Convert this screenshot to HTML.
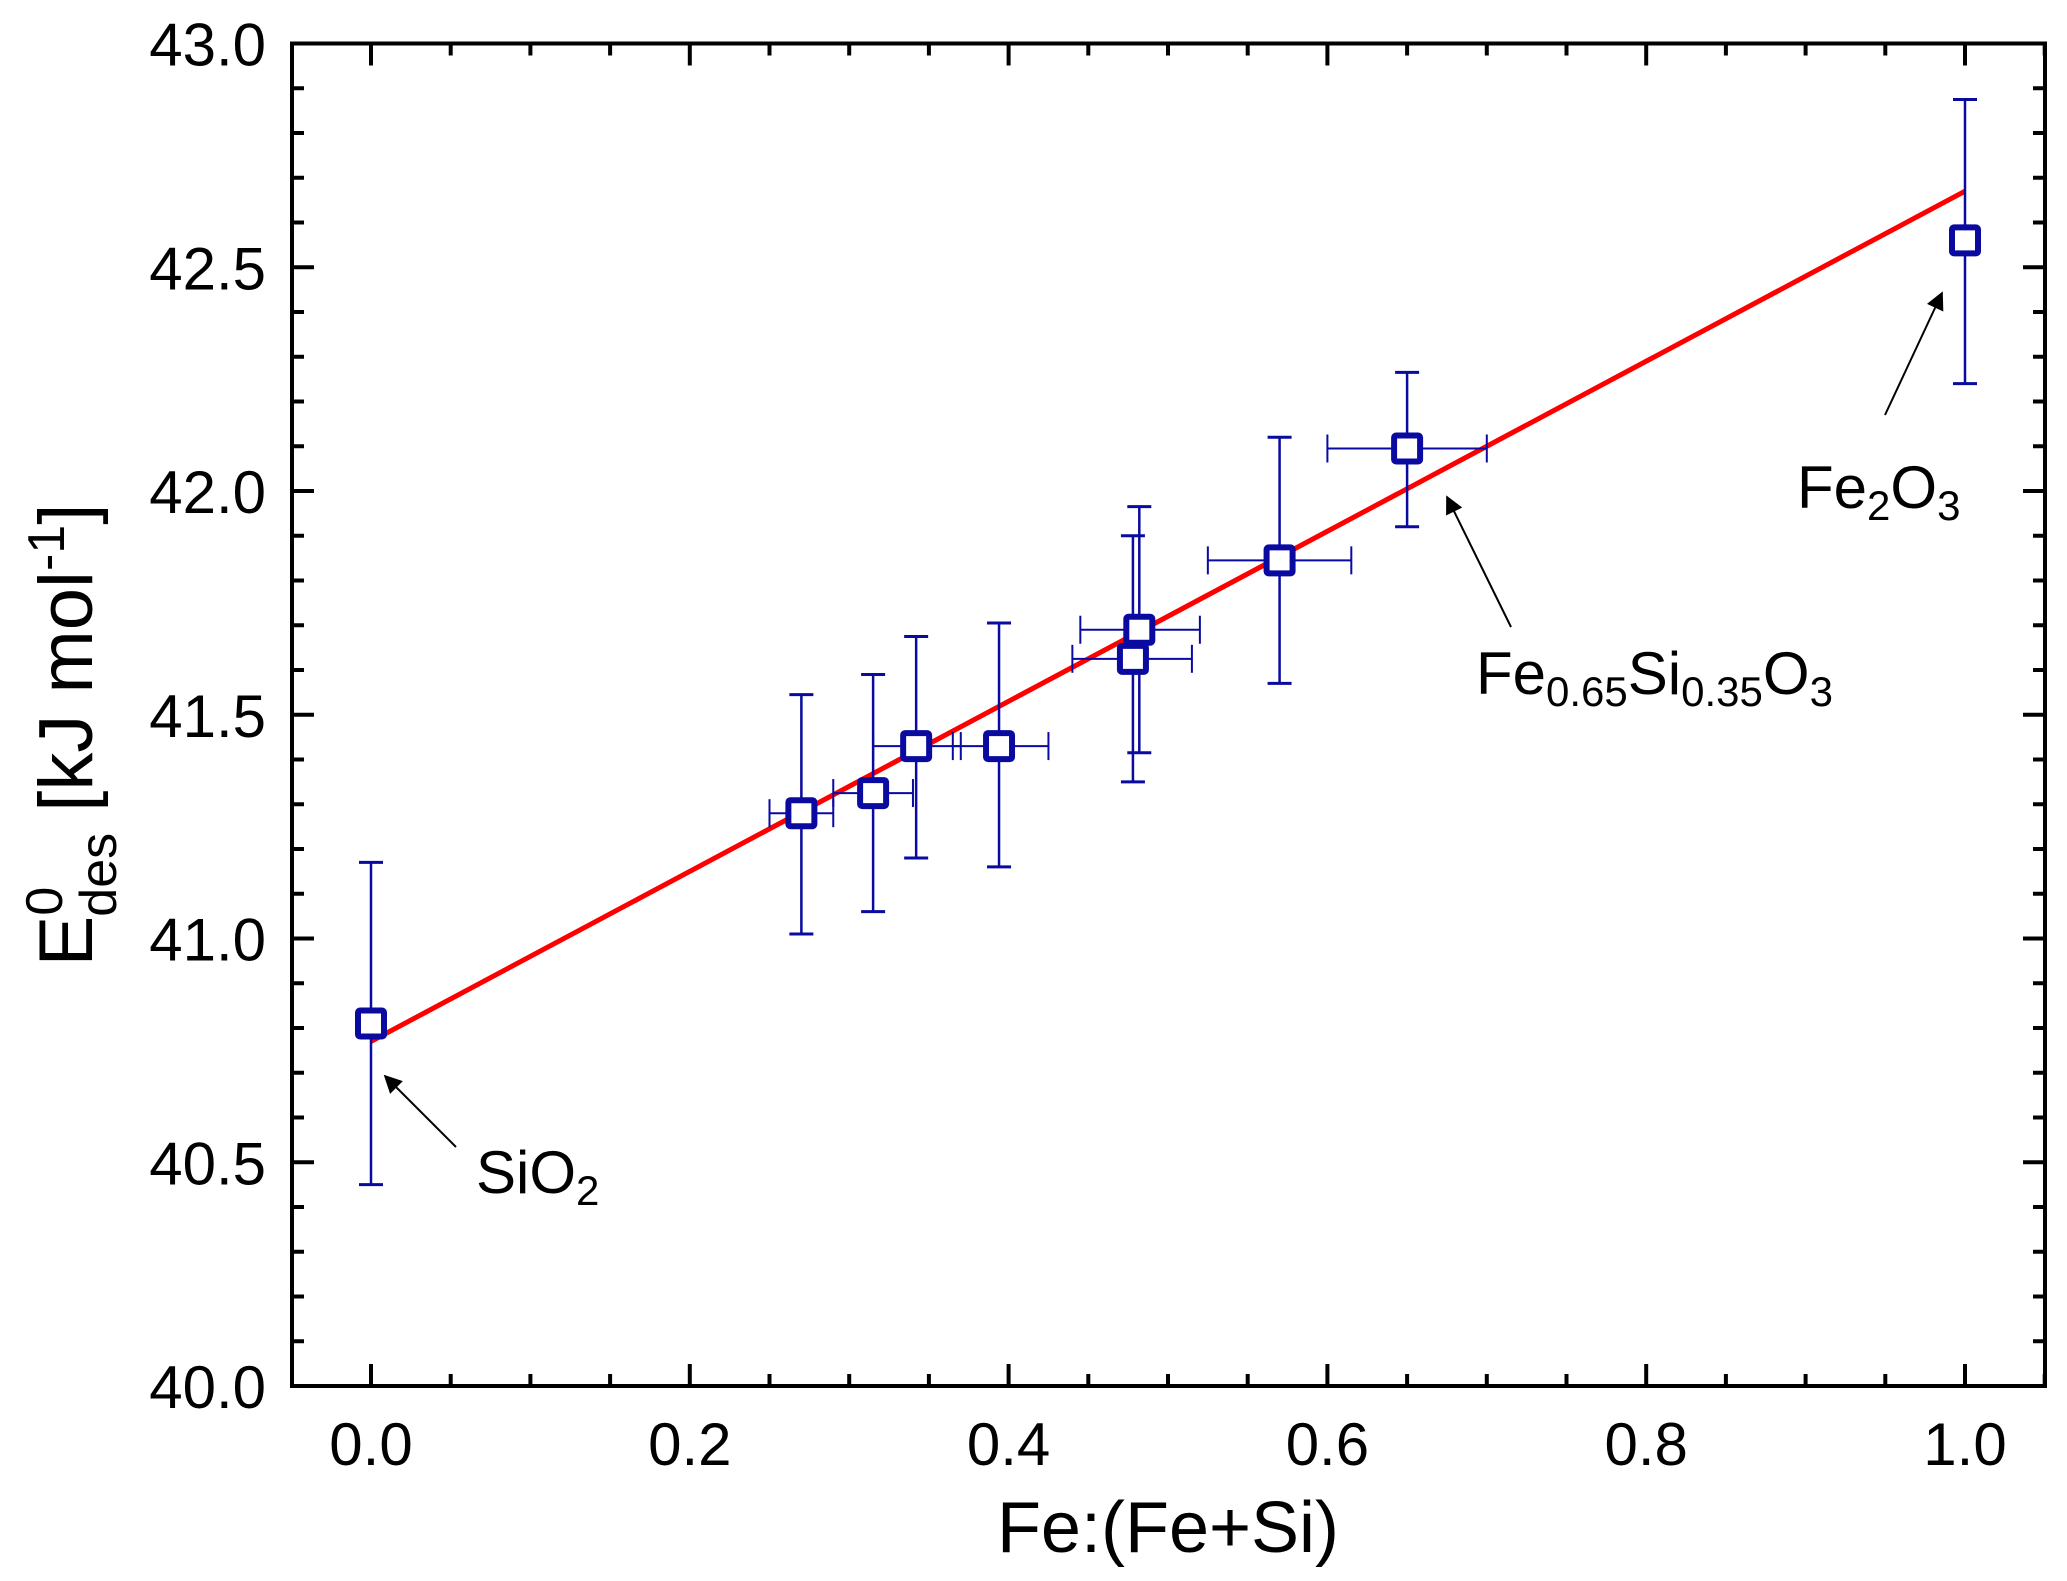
<!DOCTYPE html>
<html><head><meta charset="utf-8"><style>
html,body{margin:0;padding:0;background:#fff;}
svg{display:block;font-family:"Liberation Sans",Arial,sans-serif;}
</style></head><body>
<svg id="chart" width="2067" height="1581" viewBox="0 0 2067 1581" xmlns="http://www.w3.org/2000/svg">
<defs><marker id="ah" viewBox="0 0 10 10" refX="9" refY="5" markerWidth="22" markerHeight="18" markerUnits="userSpaceOnUse" orient="auto"><path d="M0,0 L10,5 L0,10 z" fill="#000"/></marker></defs>
<g id="plot"></g>
<g>
<line x1="456" y1="1147" x2="385" y2="1076" stroke="#000" stroke-width="2" marker-end="url(#ah)"/>
<text x="476" y="1193" font-size="60">SiO<tspan font-size="42" dy="12">2</tspan></text>
<line x1="1511" y1="627" x2="1447" y2="497" stroke="#000" stroke-width="2" marker-end="url(#ah)"/>
<text x="1476" y="694" font-size="60">Fe<tspan font-size="42" dy="12">0.65</tspan><tspan dy="-12">Si</tspan><tspan font-size="42" dy="12">0.35</tspan><tspan dy="-12">O</tspan><tspan font-size="42" dy="12">3</tspan></text>
<line x1="1885" y1="415" x2="1942" y2="293" stroke="#000" stroke-width="2" marker-end="url(#ah)"/>
<text x="1797" y="508" font-size="60">Fe<tspan font-size="42" dy="12">2</tspan><tspan dy="-12">O</tspan><tspan font-size="42" dy="12">3</tspan></text>
</g>
<text x="1168" y="1552" font-size="72" text-anchor="middle">Fe:(Fe+Si)</text>
<text transform="translate(92,735) rotate(-90)" font-size="76" text-anchor="middle">E<tspan font-size="52" dy="-30">0</tspan><tspan font-size="52" dy="54" dx="-30">des</tspan><tspan dy="-24"> [kJ mol</tspan><tspan font-size="52" dy="-28">-1</tspan><tspan dy="28">]</tspan></text>
</svg>
<script>
const xs=[0,0.27,0.315,0.342,0.394,0.478,0.482,0.57,0.65,1.0];
const ys=[40.81,41.28,41.325,41.43,41.43,41.625,41.69,41.845,42.095,42.56];
const yLo=[40.45,41.01,41.06,41.18,41.16,41.35,41.415,41.57,41.92,42.24];
const yHi=[41.17,41.545,41.59,41.675,41.705,41.90,41.965,42.12,42.265,42.875];
const xLo=[null,0.25,0.29,0.315,0.365,0.44,0.445,0.525,0.60,null];
const xHi=[null,0.29,0.34,0.37,0.425,0.515,0.52,0.615,0.70,null];
const fitX=[0,1];
const fitY=[40.77,42.67];
const xTicks=[0,0.2,0.4,0.6,0.8,1.0];
const yTicks=[40.0,40.5,41.0,41.5,42.0,42.5,43.0];
const L=292,R=2045,T=43.5,B=1386;
const sx=v=>371+(v)*1594;
const sy=v=>B-(v-40)/3*(B-T);
const g=document.getElementById('plot');
const NS='http://www.w3.org/2000/svg';
function mk(tag,at){const e=document.createElementNS(NS,tag);for(const k in at)e.setAttribute(k,at[k]);g.appendChild(e);return e;}
const C='#0a0aa0';
for(let i=0;i<=22;i++){const v=-0.05+i*0.05;const x=sx(v);if(x<L||x>R)continue;
 const major=Math.abs(Math.round(v*10)/10-v)<1e-6&&Math.round(v*10)%2===0;const len=major?22:12;
 let e=mk('line',{x1:x,x2:x,y1:B,y2:B-len,stroke:'#000','stroke-width':4});
 
 e=mk('line',{x1:x,x2:x,y1:T,y2:T+len,stroke:'#000','stroke-width':4});
 }
for(let i=0;i<=30;i++){const v=40+i*0.1;const y=sy(v);const major=i%5===0;const len=major?22:12;
 let e=mk('line',{x1:L,x2:L+len,y1:y,y2:y,stroke:'#000','stroke-width':4});
 
 e=mk('line',{x1:R,x2:R-len,y1:y,y2:y,stroke:'#000','stroke-width':4});
 }
xTicks.forEach(v=>{const t=mk('text',{x:sx(v),y:1465,'font-size':60,'text-anchor':'middle'});t.textContent=v.toFixed(1);
 });
yTicks.forEach(v=>{const t=mk('text',{x:266,y:sy(v)+22,'font-size':60,'text-anchor':'end'});t.textContent=v.toFixed(1);
 });
const fl=mk('line',{x1:sx(fitX[0]),y1:sy(fitY[0]),x2:sx(fitX[1]),y2:sy(fitY[1]),stroke:'#ff0000','stroke-width':5});

xs.forEach((v,i)=>{const x=sx(v),y=sy(ys[i]);
 let e=mk('line',{x1:x,x2:x,y1:sy(yLo[i]),y2:sy(yHi[i]),stroke:C,'stroke-width':2.5});
 
 [yLo[i],yHi[i]].forEach(w=>{const c=mk('line',{x1:x-12,x2:x+12,y1:sy(w),y2:sy(w),stroke:C,'stroke-width':3});
  });
 if(xLo[i]!==null){e=mk('line',{x1:sx(xLo[i]),x2:sx(xHi[i]),y1:y,y2:y,stroke:C,'stroke-width':2});
  
  [xLo[i],xHi[i]].forEach(w=>{const c=mk('line',{x1:sx(w),x2:sx(w),y1:y-14,y2:y+14,stroke:C,'stroke-width':2});
   });}
});
xs.forEach((v,i)=>{const x=sx(v),y=sy(ys[i]);
 const m=mk('rect',{x:x-13,y:y-13,width:26,height:26,fill:'#fff',stroke:C,'stroke-width':6,rx:2});
 });
const fr=mk('rect',{x:L,y:T,width:R-L,height:B-T,fill:'none',stroke:'#000','stroke-width':4});

</script>
</body></html>
